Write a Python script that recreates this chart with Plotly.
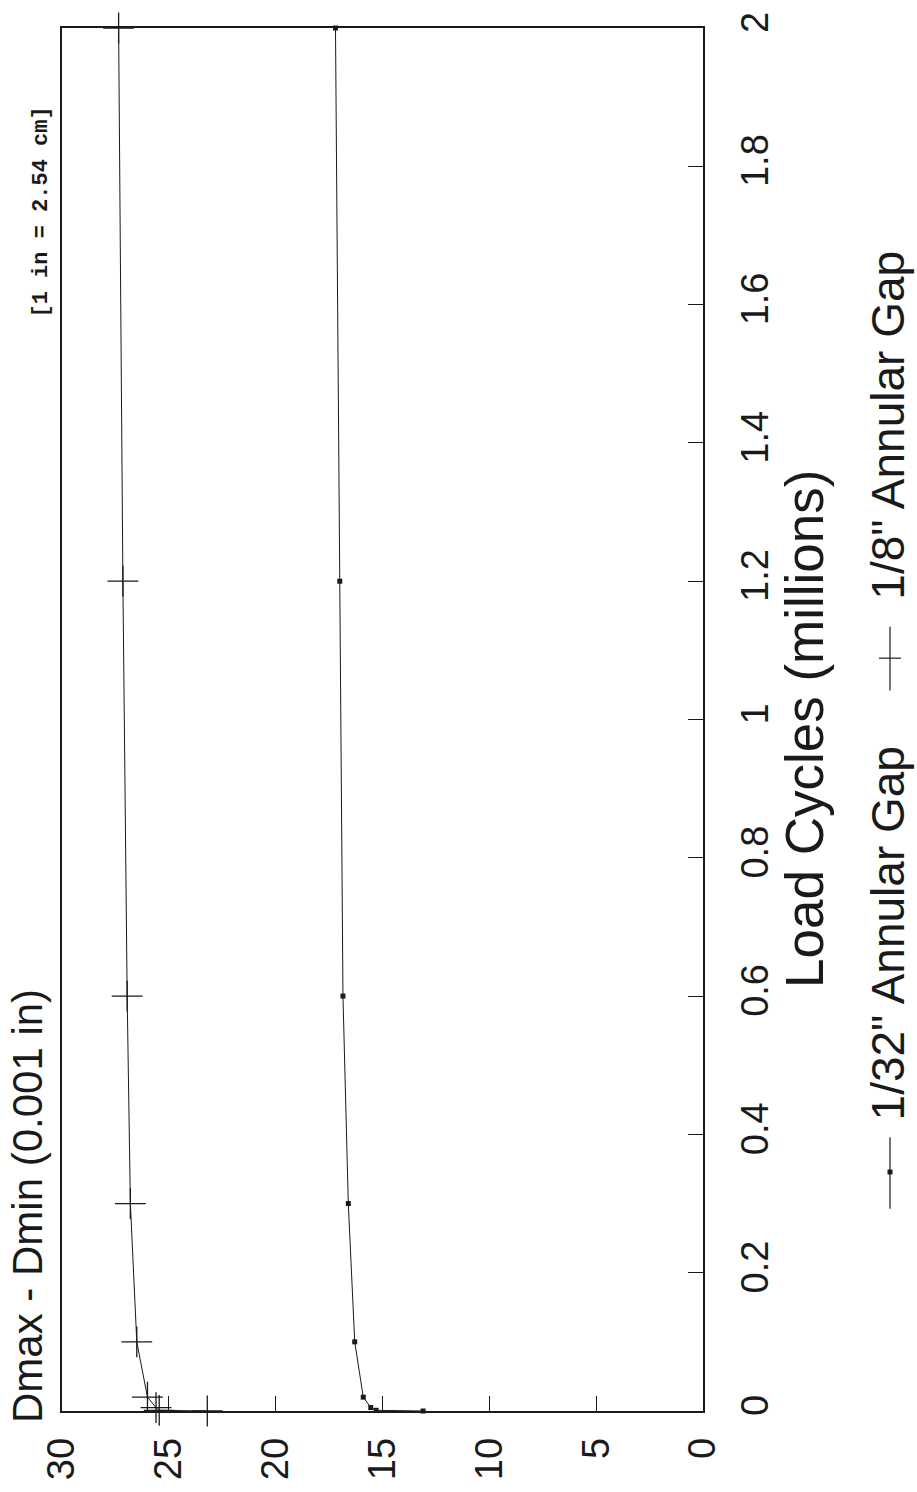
import plotly.graph_objects as go

# ---- data ----
load_cycles = [0, 0.001, 0.005, 0.02, 0.1, 0.3, 0.6, 1.2, 2.0]      # millions
gap_1_32 = [13.1, 15.3, 15.55, 15.9, 16.3, 16.6, 16.85, 17.0, 17.2]  # 0.001 in
gap_1_8 = [23.2, 25.45, 25.6, 26.0, 26.5, 26.8, 26.95, 27.15, 27.35]

d_ticks = [0, 5, 10, 15, 20, 25, 30]
d_ticktext = ["0", "5", "10", "15", "20", "25", "30"]
load_ticks = [0, 0.2, 0.4, 0.6, 0.8, 1.0, 1.2, 1.4, 1.6, 1.8, 2.0]
load_ticktext = ["0", "0.2", "0.4", "0.6", "0.8", "1", "1.2", "1.4", "1.6", "1.8", "2"]

series_names = ['1/32" Annular Gap', '1/8" Annular Gap']

FONT = "Liberation Sans"
INK = "#1a1a1a"

fig = go.Figure()

fig.add_trace(go.Scatter(
    x=gap_1_32, y=load_cycles, mode="lines+markers", name=series_names[0],
    line=dict(color=INK, width=1),
    marker=dict(symbol="square", size=5, color=INK),
    cliponaxis=False, showlegend=False,
))
fig.add_trace(go.Scatter(
    x=gap_1_8, y=load_cycles, mode="lines+markers", name=series_names[1],
    line=dict(color=INK, width=1),
    marker=dict(symbol="cross-thin", size=22, line=dict(color=INK, width=1.3)),
    cliponaxis=False, showlegend=False,
))

W, H = 917, 1492
L, R, T, B = 62, 703, 17, 1426


def px(xp):
    return (xp - L) / (R - L)


def py(yp):
    return (B - yp) / (B - T)


shapes = []
# legend sample 1 (line with small square)
shapes.append(dict(type="line", xref="paper", yref="paper", x0=px(890), x1=px(890),
                   y0=py(1220), y1=py(1147), line=dict(color=INK, width=1.2)))
shapes.append(dict(type="rect", xref="paper", yref="paper",
                   x0=px(887.5), x1=px(892.5), y0=py(1185), y1=py(1180),
                   fillcolor=INK, line=dict(color=INK, width=0)))
# legend sample 2 (line with plus)
shapes.append(dict(type="line", xref="paper", yref="paper", x0=px(890), x1=px(890),
                   y0=py(692), y1=py(627), line=dict(color=INK, width=1.2)))
shapes.append(dict(type="line", xref="paper", yref="paper", x0=px(879), x1=px(901),
                   y0=py(659), y1=py(659), line=dict(color=INK, width=1.2)))

annotations = [
    dict(text="Dmax - Dmin (0.001 in)", xref="paper", yref="paper",
         x=px(27), y=0, xanchor="center", yanchor="bottom", textangle=-90, yshift=-14,
         showarrow=False, font=dict(family=FONT, size=42, color=INK)),
    dict(text="Load Cycles (millions)", xref="paper", yref="paper",
         x=px(805), y=py(997), xanchor="center", yanchor="bottom", textangle=-90,
         showarrow=False, font=dict(family=FONT, size=53, color=INK)),
    dict(text=series_names[0], xref="paper", yref="paper",
         x=px(888), y=py(1132), xanchor="center", yanchor="bottom", textangle=-90,
         showarrow=False, font=dict(family=FONT, size=46, color=INK)),
    dict(text=series_names[1], xref="paper", yref="paper",
         x=px(888), y=py(602), xanchor="center", yanchor="bottom", textangle=-90,
         showarrow=False, font=dict(family=FONT, size=46, color=INK)),
    dict(text="<b>[1 in = 2.54 cm]</b>", xref="paper", yref="paper",
         x=px(42), y=py(205), xanchor="center", yanchor="middle", textangle=-90,
         showarrow=False, font=dict(family="Liberation Mono", size=22, color=INK)),
]

fig.update_layout(
    width=W, height=H,
    margin=dict(l=L, r=W - R, t=T, b=H - B),
    paper_bgcolor="white", plot_bgcolor="white",
    font=dict(family=FONT, color=INK),
    shapes=shapes, annotations=annotations,
    showlegend=False,
)

fig.update_xaxes(
    range=[30, 0], tickvals=d_ticks, ticktext=d_ticktext,
    tickangle=-90, tickfont=dict(size=38, family=FONT, color=INK),
    ticks="inside", ticklen=15, tickwidth=1, tickcolor=INK,
    showline=True, linecolor=INK, linewidth=1.5, mirror=True,
    showgrid=False, zeroline=False, ticklabelstandoff=10,
)
fig.update_yaxes(
    range=[0, 2], side="right", tickvals=load_ticks, ticktext=load_ticktext,
    tickangle=-90, tickfont=dict(size=38, family=FONT, color=INK),
    ticks="inside", ticklen=15, tickwidth=1, tickcolor=INK,
    showline=True, linecolor=INK, linewidth=1.5, mirror=True,
    showgrid=False, zeroline=False, ticklabelstandoff=18,
)

fig.write_html("out.html")
